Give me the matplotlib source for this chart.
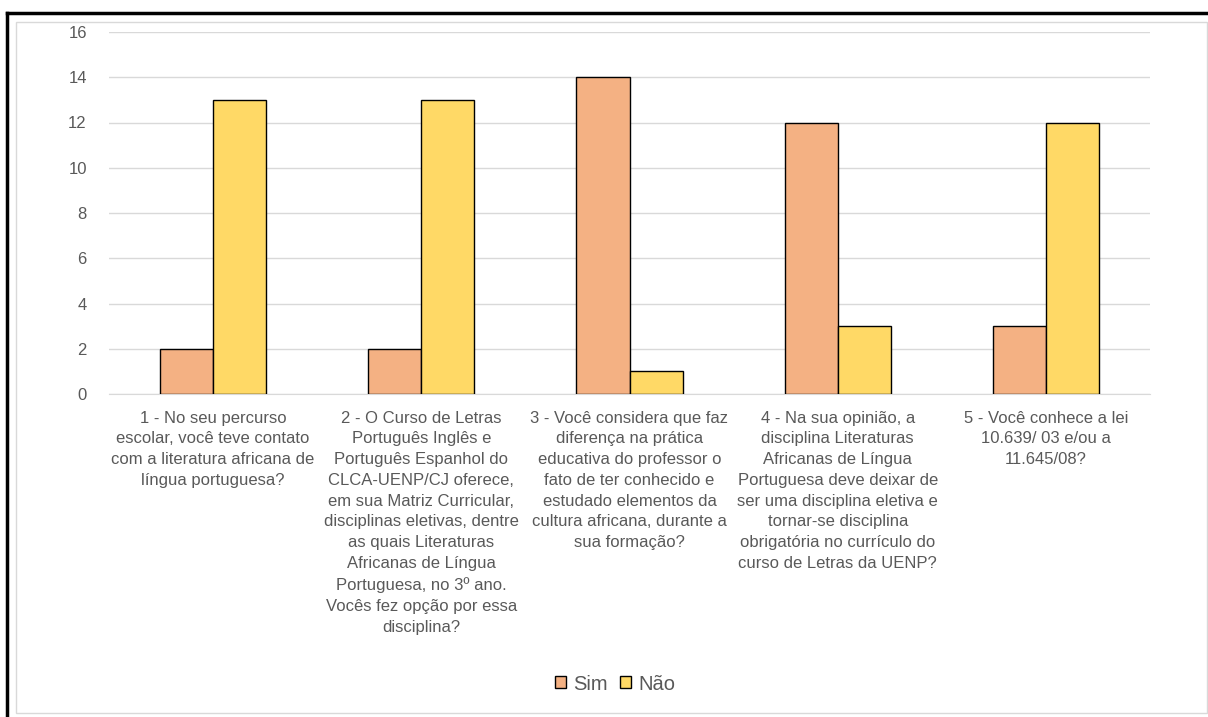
import numpy as np
import matplotlib.pyplot as plt
from matplotlib.lines import Line2D
from matplotlib.patches import Rectangle

plt.rcParams['font.family'] = ['Liberation Sans', 'DejaVu Sans']

perguntas = [
    "1 - No seu percurso\nescolar, você teve contato\ncom a literatura africana de\nlíngua portuguesa?",
    "2 - O Curso de Letras\nPortuguês Inglês e\nPortuguês Espanhol do\nCLCA-UENP/CJ oferece,\nem sua Matriz Curricular,\ndisciplinas eletivas, dentre\nas quais Literaturas\nAfricanas de Língua\nPortuguesa, no 3º ano.\nVocês fez opção por essa\ndisciplina?",
    "3 - Você considera que faz\ndiferença na prática\neducativa do professor o\nfato de ter conhecido e\nestudado elementos da\ncultura africana, durante a\nsua formação?",
    "4 - Na sua opinião, a\ndisciplina Literaturas\nAfricanas de Língua\nPortuguesa deve deixar de\nser uma disciplina eletiva e\ntornar-se disciplina\nobrigatória no currículo do\ncurso de Letras da UENP?",
    "5 - Você conhece a lei\n10.639/ 03 e/ou a\n11.645/08?",
]
sim = [2, 2, 14, 12, 3]
nao = [13, 13, 1, 3, 12]

cor_sim = '#F4B183'
cor_nao = '#FFD966'
cinza = '#595959'

fig = plt.figure(figsize=(12.08, 7.17), dpi=100)
ax = fig.add_axes([109/1208, 1-394/717, 1041/1208, 362/717])

x = np.arange(len(perguntas))
w = 0.255
ax.bar(x - w/2, sim, w, color=cor_sim, edgecolor='black', linewidth=1, label='Sim', zorder=3)
ax.bar(x + w/2, nao, w, color=cor_nao, edgecolor='black', linewidth=1, label='Não', zorder=3)

ax.set_xlim(-0.5, len(perguntas) - 0.5)
ax.set_ylim(0, 16)
ax.set_yticks(range(0, 17, 2))
ax.set_xticks(x)
ax.set_xticklabels(perguntas, fontsize=12, color=cinza, linespacing=1.48)
ax.tick_params(axis='y', labelsize=12, labelcolor=cinza, length=0, pad=16)
ax.tick_params(axis='x', length=0, pad=12)
ax.grid(axis='y', color='#D9D9D9', linewidth=1, zorder=0)
for s in ['top', 'right', 'left']:
    ax.spines[s].set_visible(False)
ax.spines['bottom'].set_color('#D9D9D9')

leg = fig.legend(loc='center', bbox_to_anchor=(615/1208, 1-684/717), ncol=2, frameon=False,
                 fontsize=14.5, handlelength=0.55, handleheight=0.55, handletextpad=0.35,
                 columnspacing=0.6)
for t in leg.get_texts():
    t.set_color(cinza)

# moldura
fig.add_artist(Rectangle((16/1208, 1-713/717), 1191/1208, 691/717, transform=fig.transFigure,
                         fill=False, edgecolor='#D9D9D9', linewidth=1))
fig.add_artist(Line2D([7/1208, 1], [1-13/717, 1-13/717], transform=fig.transFigure,
                      color='black', linewidth=2.5))
fig.add_artist(Line2D([7/1208, 7/1208], [0, 1-13/717], transform=fig.transFigure,
                      color='black', linewidth=2.5))

fig.savefig('out.png', dpi=100)
